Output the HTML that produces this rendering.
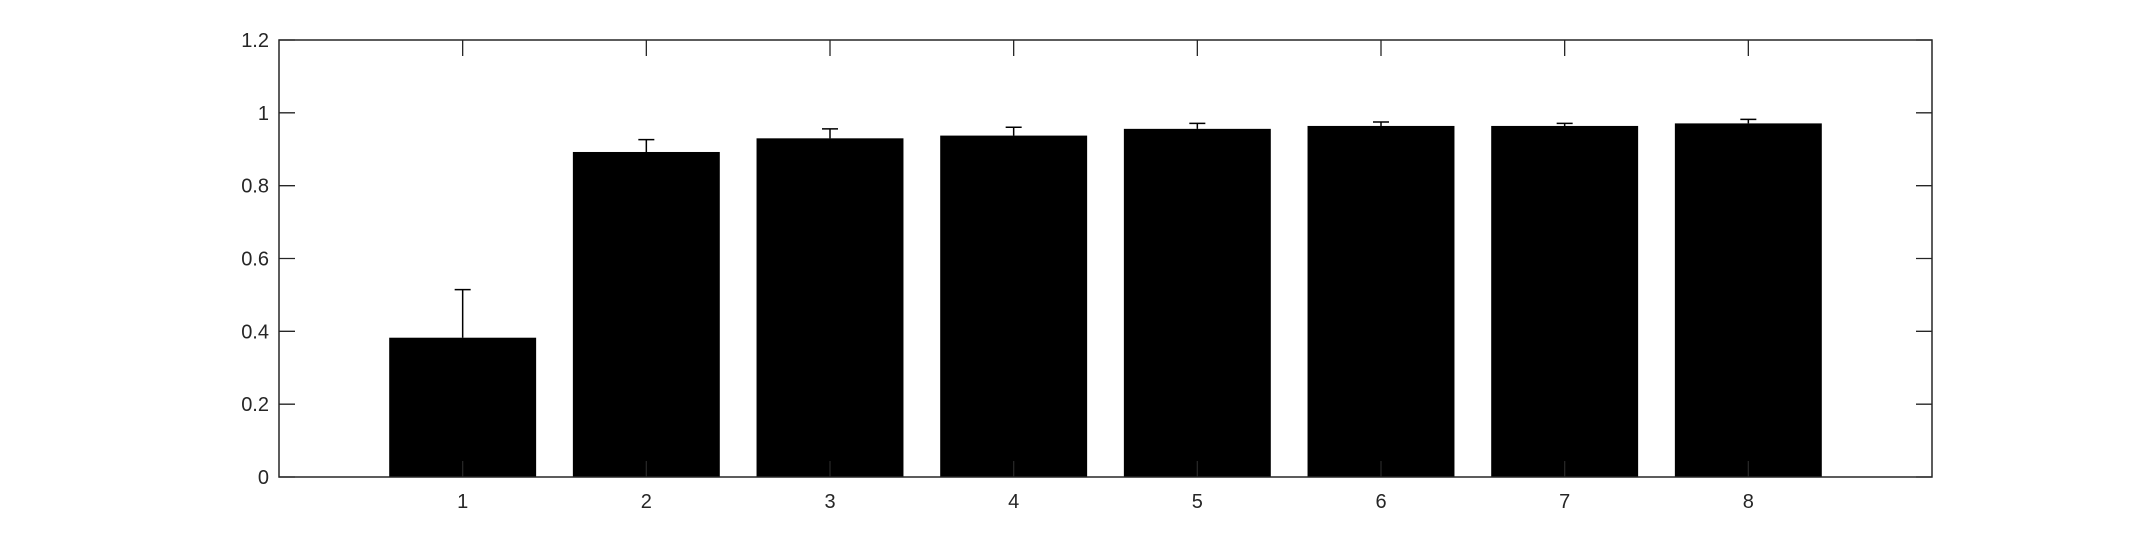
<!DOCTYPE html>
<html><head><meta charset="utf-8"><style>
html,body{margin:0;padding:0;background:#fff;}
svg{display:block;font-family:"Liberation Sans",sans-serif;}
</style></head><body>
<svg id="chart" width="2133" height="533" xmlns="http://www.w3.org/2000/svg"></svg>
<script>
const categories = [1,2,3,4,5,6,7,8];
const values = [0.3825,0.8925,0.93,0.9375,0.956,0.964,0.964,0.971];
const errors = [0.132,0.034,0.026,0.023,0.015,0.011,0.007,0.011];
const yTicks = [0,0.2,0.4,0.6,0.8,1,1.2];
const yTickLabels = ["0","0.2","0.4","0.6","0.8","1","1.2"];

const L=279,R=1932,T=40,B=477;
const xMin=0,xMax=9,yMin=0,yMax=1.2;
const xs=v=>L+(v-xMin)/(xMax-xMin)*(R-L);
const ys=v=>B-(v-yMin)/(yMax-yMin)*(B-T);
const svg=document.getElementById('chart');
const NS='http://www.w3.org/2000/svg';
function mk(tag,attrs){const e=document.createElementNS(NS,tag);for(const k in attrs)e.setAttribute(k,attrs[k]);svg.appendChild(e);return e;}
const bw=(xs(0.8)-xs(0));
categories.forEach((c,i)=>{
  const r=mk('rect',{x:xs(c)-bw/2,y:ys(values[i]),width:bw,height:ys(0)-ys(values[i]),fill:'#000'});
  
  
  const top=ys(values[i]+errors[i]);
  const g=mk('path',{d:`M${xs(c)},${ys(values[i])}V${top}M${xs(c)-8},${top}H${xs(c)+8}`,stroke:'#000','stroke-width':1.5,fill:'none'});
  
  
});
const box=mk('rect',{x:L,y:T,width:R-L,height:B-T,fill:'none',stroke:'#262626','stroke-width':1.5});


yTicks.forEach((t,i)=>{
  const y=ys(t);
  mk('path',{d:`M${L},${y}h16M${R},${y}h-16`,stroke:'#262626','stroke-width':1.3});
  const tx=mk('text',{x:L-10,y:y+7,'text-anchor':'end','font-size':20,fill:'#262626'});
  tx.textContent=yTickLabels[i];
  
  
});
categories.forEach(c=>{
  const x=xs(c);
  mk('path',{d:`M${x},${T}v16M${x},${B}v-16`,stroke:'#262626','stroke-width':1.3});
  const tx=mk('text',{x:x,y:B+31,'text-anchor':'middle','font-size':20,fill:'#262626'});
  tx.textContent=String(c);
  
  
});
</script>
</body></html>
